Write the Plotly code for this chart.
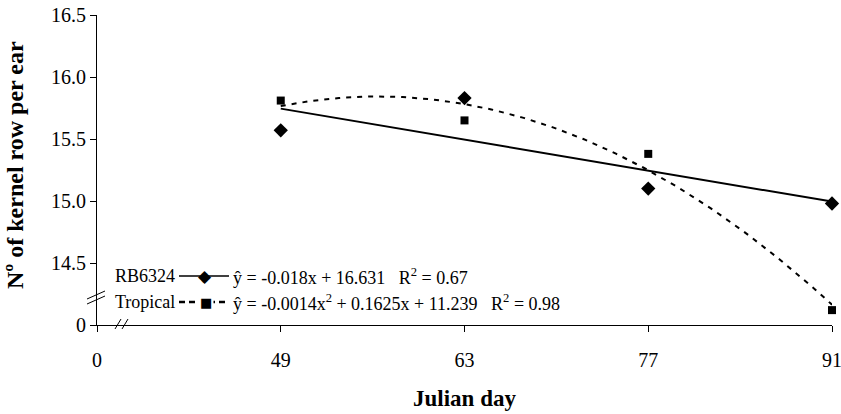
import numpy as np
import plotly.graph_objects as go

# ---- data (display scale; y axis broken: tick "0" sits at 14.0) ----
days = [49, 63, 77, 91]
rb6324 = [15.57, 15.83, 15.10, 14.98]
tropical = [15.81, 15.65, 15.38, 14.12]

x_tickvals = [35, 49, 63, 77, 91]
x_ticktext = ["0", "49", "63", "77", "91"]
y_tickvals = [14.0, 14.5, 15.0, 15.5, 16.0, 16.5]
y_ticktext = ["0", "14.5", "15.0", "15.5", "16.0", "16.5"]

FONT = "Liberation Serif, Times New Roman, serif"
W, H = 841, 414
L, R, T, B = 97, 9, 15, 89
PW, PH = W - L - R, H - T - B


def px(x):
    return (x - L) / PW


def py(y):
    return (H - B - y) / PH


# trendlines fitted from the data (as the spreadsheet trendlines)
xs = np.linspace(min(days), max(days), 200)
lin = np.polyfit(days, rb6324, 1)
quad = np.polyfit(days, tropical, 2)

fig = go.Figure()
fig.add_trace(go.Scatter(x=xs, y=np.polyval(lin, xs), mode="lines",
                         line=dict(color="black", width=2), hoverinfo="skip", cliponaxis=False))
fig.add_trace(go.Scatter(x=xs, y=np.polyval(quad, xs), mode="lines",
                         line=dict(color="black", width=2, dash="5px,6px"), hoverinfo="skip",
                         cliponaxis=False))
fig.add_trace(go.Scatter(x=days, y=rb6324, mode="markers", name="RB6324",
                         marker=dict(symbol="diamond", size=11, color="black"), cliponaxis=False))
fig.add_trace(go.Scatter(x=days, y=tropical, mode="markers", name="Tropical",
                         marker=dict(symbol="square", size=8, color="black"), cliponaxis=False))

shapes = []
# legend sample lines
shapes.append(dict(type="line", xref="paper", yref="paper", x0=px(179), x1=px(229),
                   y0=py(276), y1=py(276), line=dict(color="black", width=1.5)))
shapes.append(dict(type="line", xref="paper", yref="paper", x0=px(179), x1=px(229),
                   y0=py(302), y1=py(302), line=dict(color="black", width=2.5, dash="6px,4px")))
# axis break marks (y axis)
for dy in (0, 5):
    shapes.append(dict(type="line", xref="paper", yref="paper",
                       x0=px(87), y0=py(299 + dy), x1=px(105), y1=py(291 + dy),
                       line=dict(color="black", width=1)))
# axis break marks (x axis)
for dx in (0, 7):
    shapes.append(dict(type="line", xref="paper", yref="paper",
                       x0=px(115 + dx), y0=py(329), x1=px(121 + dx), y1=py(319),
                       line=dict(color="black", width=1)))

ann = []
lf = dict(family=FONT, size=18, color="black")
ann.append(dict(xref="paper", yref="paper", x=px(177), y=py(276), text="RB6324",
                xanchor="right", yanchor="middle", showarrow=False, font=lf))
ann.append(dict(xref="paper", yref="paper", x=px(177), y=py(302), text="Tropical",
                xanchor="right", yanchor="middle", showarrow=False, font=lf))
ann.append(dict(xref="paper", yref="paper", x=px(205), y=py(276), text="◆",
                xanchor="center", yanchor="middle", showarrow=False,
                font=dict(family="DejaVu Sans", size=17, color="black")))
ann.append(dict(xref="paper", yref="paper", x=px(206), y=py(302), text="■",
                xanchor="center", yanchor="middle", showarrow=False, bgcolor="white",
                font=dict(family="DejaVu Sans", size=13, color="black")))
ann.append(dict(xref="paper", yref="paper", x=px(231), y=py(276),
                text="ŷ = -0.018x + 16.631   R<sup>2</sup> = 0.67",
                xanchor="left", yanchor="middle", showarrow=False, font=lf))
ann.append(dict(xref="paper", yref="paper", x=px(231), y=py(302),
                text="ŷ = -0.0014x<sup>2</sup> + 0.1625x + 11.239   R<sup>2</sup> = 0.98",
                xanchor="left", yanchor="middle", showarrow=False, font=lf))
# y axis title
ann.append(dict(xref="paper", yref="paper", x=px(15), y=py(165), textangle=-90,
                text="<b>Nº of kernel row per ear</b>", xanchor="center", yanchor="middle",
                showarrow=False, font=dict(family=FONT, size=24, color="black")))

fig.update_layout(
    width=W, height=H,
    margin=dict(l=L, r=R, t=T, b=B, autoexpand=False),
    plot_bgcolor="white", paper_bgcolor="white",
    showlegend=False,
    font=dict(family=FONT, color="black"),
    shapes=shapes, annotations=ann,
    xaxis=dict(range=[35, 91], tickvals=x_tickvals, ticktext=x_ticktext,
               showgrid=False, zeroline=False, showline=True, linecolor="black", linewidth=1,
               ticks="outside", ticklen=6, tickcolor="black", ticklabelstandoff=11,
               ticklabeloverflow="allow",
               tickfont=dict(family=FONT, size=20),
               title=dict(text="<b>Julian day</b>", font=dict(family=FONT, size=23), standoff=19)),
    yaxis=dict(range=[14.0, 16.5], tickvals=y_tickvals, ticktext=y_ticktext,
               showgrid=False, zeroline=False, showline=True, linecolor="black", linewidth=1,
               ticks="outside", ticklen=6, tickcolor="black",
               tickfont=dict(family=FONT, size=20)),
)

fig.write_html("out.html", config={"displayModeBar": False},
               post_script="document.body.style.margin='0';document.body.style.overflow='hidden';")
